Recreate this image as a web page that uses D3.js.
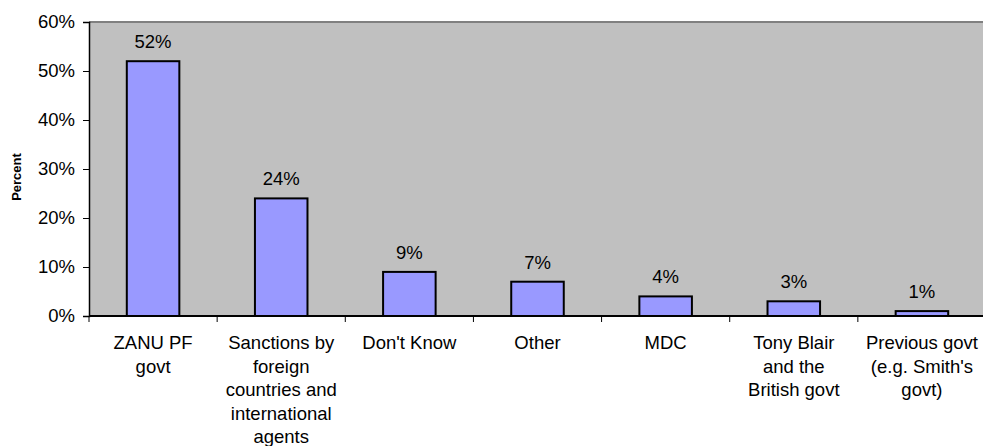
<!DOCTYPE html>
<head>
    <meta charset="UTF-8">
    <script src="https://cdnjs.cloudflare.com/ajax/libs/d3/7.8.5/d3.min.js"></script>
    <style>
        body { margin: 0; background: #fff; }
        text { font-family: "Liberation Sans", Arial, sans-serif; fill: #000; }
    </style>
</head>
<body>
    <svg id="chart"></svg>
    <script>
        // ********** DATOS **********
        var categorias = [
            ["ZANU PF", "govt"],
            ["Sanctions by", "foreign", "countries and", "international", "agents"],
            ["Don't Know"],
            ["Other"],
            ["MDC"],
            ["Tony Blair", "and the", "British govt"],
            ["Previous govt", "(e.g. Smith's", "govt)"]
        ];
        var valores = [52, 24, 9, 7, 4, 3, 1];
        var ticksY = [0, 10, 20, 30, 40, 50, 60];

        var width = 983, height = 446;
        var margin = { top: 22, right: -3, bottom: 130, left: 89 };
        var innerW = width - margin.left - margin.right;
        var innerH = height - margin.top - margin.bottom;
        var fs = "18.5px";

        var svg = d3.select("#chart").attr("width", width).attr("height", height);
        var g = svg.append("g").attr("transform", "translate(" + margin.left + "," + margin.top + ")");

        var x = d3.scaleBand()
            .domain(d3.range(valores.length))
            .range([0, innerW])
            .paddingInner(0.59)
            .paddingOuter(0.295);

        var y = d3.scaleLinear().domain([0, 60]).range([innerH, 0]);

        // fondo gris
        g.append("rect")
            .attr("x", 0).attr("y", 0)
            .attr("width", innerW).attr("height", innerH)
            .attr("fill", "#c0c0c0");
        g.append("line")
            .attr("x1", 0).attr("x2", innerW)
            .attr("y1", 0).attr("y2", 0)
            .attr("stroke", "#808080").attr("stroke-width", 2);

        // barras
        g.selectAll(".bar")
            .data(valores)
            .enter().append("rect")
            .attr("x", function (d, i) { return x(i); })
            .attr("y", function (d) { return y(d); })
            .attr("width", x.bandwidth())
            .attr("height", function (d) { return innerH - y(d); })
            .attr("fill", "#9999ff")
            .attr("stroke", "#000")
            .attr("stroke-width", 2);

        // etiquetas de valor
        g.selectAll(".val")
            .data(valores)
            .enter().append("text")
            .attr("x", function (d, i) { return x(i) + x.bandwidth() / 2; })
            .attr("y", function (d) { return y(d) - 13; })
            .attr("text-anchor", "middle")
            .style("font-size", fs)
            .text(function (d) { return d + "%"; });

        // eje Y
        var yAxis = d3.axisLeft(y)
            .tickValues(ticksY)
            .tickFormat(function (d) { return d + "%"; })
            .tickSize(6)
            .tickPadding(8);
        var ya = g.append("g").call(yAxis);
        ya.select(".domain").attr("stroke", "#000").attr("stroke-width", 1.5);
        ya.selectAll("text").style("font-size", fs).attr("font-family", null);

        // eje X
        var step = x.step();
        var xa = g.append("g").attr("transform", "translate(0," + innerH + ")");
        xa.append("line")
            .attr("x1", 0).attr("x2", innerW)
            .attr("stroke", "#000").attr("stroke-width", 2);
        xa.selectAll(".tick")
            .data(d3.range(valores.length + 1))
            .enter().append("line")
            .attr("x1", function (d) { return d * step; })
            .attr("x2", function (d) { return d * step; })
            .attr("y1", 0).attr("y2", 6)
            .attr("stroke", "#000");

        var lbl = xa.selectAll(".cat")
            .data(categorias)
            .enter().append("text")
            .attr("text-anchor", "middle")
            .attr("transform", function (d, i) { return "translate(" + (x(i) + x.bandwidth() / 2) + ",33)"; })
            .style("font-size", fs);
        lbl.selectAll("tspan")
            .data(function (d) { return d; })
            .enter().append("tspan")
            .attr("x", 0)
            .attr("y", function (d, i) { return i * 23.5; })
            .text(function (d) { return d; });

        // titulo eje Y
        svg.append("text")
            .attr("transform", "translate(21,177) rotate(-90)")
            .attr("text-anchor", "middle")
            .style("font-size", "13px")
            .style("font-weight", "bold")
            .text("Percent");
    </script>
</body>
